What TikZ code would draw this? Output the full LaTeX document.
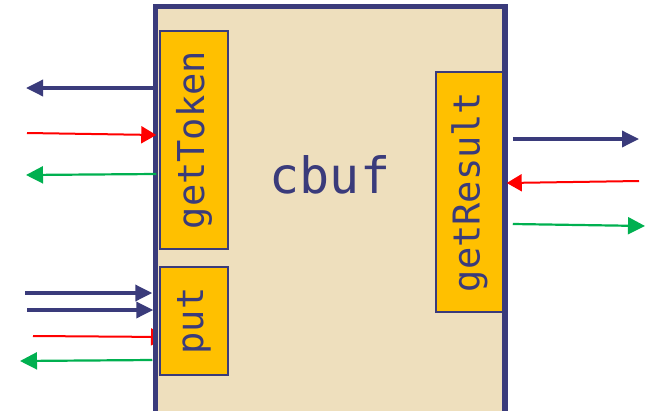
\documentclass[tikz,border=0pt]{standalone}
\usepackage{fontspec}
\newfontfamily\cbmono{DejaVu Sans Mono}
\usetikzlibrary{arrows.meta}
\definecolor{navy}{HTML}{3A3B7B}
\definecolor{tanfill}{HTML}{EEDFBD}
\definecolor{gold}{HTML}{FFC000}
\definecolor{ared}{HTML}{FF0000}
\definecolor{agreen}{HTML}{00B050}
\begin{document}
\begin{tikzpicture}[x=1pt,y=-1pt,
  mainbox/.style={draw=navy, fill=tanfill, line width=3.5pt, inner sep=0pt},
  port/.style={draw=navy, fill=gold, line width=2pt, inner sep=0pt, rotate=90,
    text=navy, font=\cbmono\fontsize{37}{37}\selectfont},
  busarrow/.style={draw=navy, line width=3.5pt, -{Triangle[length=17pt,width=16pt]}},
  reqarrow/.style={draw=ared, line width=2pt, -{Triangle[length=15pt,width=17pt]}},
  ackarrow/.style={draw=agreen, line width=2.2pt, -{Triangle[length=17pt,width=17pt]}},
]
\clip (0,0) rectangle (650,410);
% free ends
\coordinate (l1) at (26,88);
\coordinate (l2) at (27,133);
\coordinate (l3) at (26,175);
\coordinate (p1) at (25,293);
\coordinate (p2) at (27,310);
\coordinate (p3) at (33,336);
\coordinate (p3e) at (166,337);
\coordinate (p4) at (20,361);
\coordinate (r1) at (639,139);
\coordinate (r2) at (639,181);
\coordinate (r3) at (645,226);
% request arrow into put, partly hidden behind the box
\draw[reqarrow] (p3) -- (p3e);
% main box
\node[mainbox, minimum width=348pt, minimum height=412.5pt] (main) at (330,213.75) {};
\node[anchor=base, text=navy, font=\cbmono\fontsize{50}{50}\selectfont] (title) at (330,193) {cbuf};
% ports
\node[port, minimum width=218pt, minimum height=68pt] (gettoken) at (194,140) {getToken};
\node[port, minimum width=108pt, minimum height=68pt] (put) at (194,321) {put};
\node[port, minimum width=240pt, minimum height=67pt] (getresult) at (469.5,192) {getResult};
\draw[navy, line width=3.5pt] (main.south west) rectangle (main.north east);
% left arrows (getToken)
\draw[busarrow] (main.west |- l1) -- (l1);
\draw[reqarrow] (l2) -- ([xshift=2pt]main.west |- 0,135);
\draw[ackarrow] ([xshift=2pt]main.west |- 0,174) -- (l3);
% left arrows (put)
\draw[busarrow] (p1) -- ([xshift=-2pt]main.west |- p1);
\draw[busarrow] (p2) -- ([xshift=-1pt]main.west |- p2);
\draw[ackarrow] ([xshift=-2pt]main.west |- 0,360) -- (p4);
% right arrows (getResult)
\draw[busarrow] ([xshift=7pt]main.east |- r1) -- (r1);
\draw[reqarrow] (r2) -- ([xshift=1pt]main.east |- 0,183);
\draw[ackarrow] ([xshift=7pt]main.east |- 0,224) -- (r3);
\end{tikzpicture}
\end{document}
